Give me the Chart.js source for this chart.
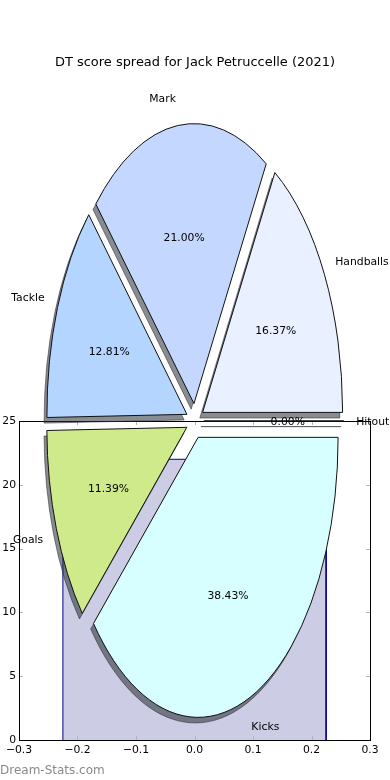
<!DOCTYPE html>
<html><head><meta charset="utf-8">
<script src="https://cdn.jsdelivr.net/npm/chart.js@4"></script>
<style>
html,body{margin:0;padding:0;background:#fff;}
#wrap{position:relative;width:390px;height:780px;overflow:hidden;}
canvas{position:absolute;left:0;top:0;}
#wm{position:absolute;left:0;top:763px;font:12px 'DejaVu Sans';line-height:14px;color:#8a8a8a;}
</style></head><body>
<div id="wrap">
<canvas id="axes" width="390" height="780"></canvas>
<canvas id="pie" width="390" height="780"></canvas>
<div id="wm">Dream-Stats.com</div>
</div>
<script>
const titleText = 'DT score spread for Jack Petruccelle (2021)';
const categories = ['Handballs', 'Mark', 'Tackle', 'Goals', 'Kicks', 'Hitout'];
const shares = [16.37, 21.00, 12.81, 11.39, 38.43, 0.00];
const sliceColors = ['#e9f0ff', '#c4d8ff', '#b3d5ff', '#cfea8a', '#d8ffff', '#ffd8d8'];
const areaX = [-0.225, -0.225, 0.225, 0.225];
const areaY = [0, 22, 22, 0];
const markerX = [-0.2, -0.2];
const markerY = [0, 22];
const xTicks = [-0.3, -0.2, -0.1, 0, 0.1, 0.2, 0.3];
const yTicks = [0, 5, 10, 15, 20, 25];

const FONT = "'DejaVu Sans', 'Liberation Sans', sans-serif";
const K = 2;            // vertical stretch of the pie (ellipse)
const EXPLODE = 8.75;   // explode distance (chart-space px)
const SHX = -2.8, SHY = 5.6;
const TEXT_DY = 1.5;
const shadowColor = 'rgba(40,45,52,0.55)';

const toPts = (xs, ys) => xs.map((v, i) => ({x: v, y: ys[i]}));

const framePlugin = {
  id: 'frame',
  afterDatasetsDraw(chart) {
    const {ctx, chartArea: a, scales: {x, y}} = chart;
    ctx.save();
    ctx.strokeStyle = '#b4b4b4';
    ctx.lineWidth = 1;
    ctx.beginPath();
    x.ticks.forEach(t => {
      const p = Math.round(x.getPixelForValue(t.value)) + 0.5;
      ctx.moveTo(p, a.bottom); ctx.lineTo(p, a.bottom - 4);
      ctx.moveTo(p, a.top); ctx.lineTo(p, a.top + 4);
    });
    y.ticks.forEach(t => {
      const p = Math.round(y.getPixelForValue(t.value)) + 0.5;
      ctx.moveTo(a.left, p); ctx.lineTo(a.left + 4, p);
      ctx.moveTo(a.right, p); ctx.lineTo(a.right - 4, p);
    });
    ctx.stroke();
    ctx.strokeStyle = '#000';
    ctx.strokeRect(Math.round(a.left) + 0.5, Math.round(a.top) + 0.5,
                   Math.round(a.right - a.left), Math.round(a.bottom - a.top));
    ctx.restore();
  }
};

const fmtX = v => (v < -1e-9 ? '\u2212' : '') + Math.abs(v).toFixed(1);

new Chart(document.getElementById('axes'), {
  type: 'line',
  data: {
    datasets: [
      {
        data: toPts(areaX, areaY),
        borderColor: '#00008b', borderWidth: 1,
        backgroundColor: '#ccccE4', fill: 'origin',
        pointRadius: 0, tension: 0
      },
      {
        data: toPts(markerX, markerY),
        borderColor: 'rgba(140,140,170,0.8)', borderWidth: 1, borderDash: [2, 2],
        fill: false, pointRadius: 0
      }
    ]
  },
  options: {
    responsive: false, animation: false,
    layout: {padding: {left: 0, right: 20, top: 421, bottom: 20}},
    plugins: {legend: {display: false}, tooltip: {enabled: false}},
    scales: {
      x: {
        type: 'linear', min: -0.3, max: 0.3,
        afterBuildTicks: s => { s.ticks = xTicks.map(v => ({value: v})); },
        afterFit: s => { s.height = 20; },
        grid: {display: false, drawTicks: false}, border: {display: false},
        ticks: {callback: v => fmtX(v), color: '#000', padding: 3.5, maxRotation: 0,
                autoSkip: false, font: {family: FONT, size: 10.8}}
      },
      y: {
        type: 'linear', min: 0, max: 25,
        afterBuildTicks: s => { s.ticks = yTicks.map(v => ({value: v})); },
        afterFit: s => { s.width = 19; },
        grid: {display: false, drawTicks: false}, border: {display: false},
        ticks: {color: '#000', padding: 3, autoSkip: false, font: {family: FONT, size: 10.8}}
      }
    }
  },
  plugins: [framePlugin]
});

function toEllipse(ctx, cx, cy) {
  ctx.translate(cx, cy);
  ctx.scale(1, -K);
  ctx.translate(-cx, -cy);
}

function arcGeom(el) {
  return el.getProps(['x', 'y', 'startAngle', 'endAngle', 'outerRadius'], true);
}

function slicePath(ctx, g, dx, dy) {
  const mid = (g.startAngle + g.endAngle) / 2;
  ctx.save();
  ctx.translate(dx, dy);
  toEllipse(ctx, g.x, g.y);
  ctx.translate(Math.cos(mid) * EXPLODE, Math.sin(mid) * EXPLODE);
  ctx.beginPath();
  ctx.moveTo(g.x, g.y);
  ctx.arc(g.x, g.y, g.outerRadius, g.startAngle, g.endAngle);
  ctx.closePath();
  ctx.restore();
}

const piePlugin = {
  id: 'ellipsePie',
  beforeDatasetDraw(chart, args) {
    const ctx = chart.ctx;
    const arcs = args.meta.data;
    ctx.save();
    arcs.forEach(el => {
      const g = arcGeom(el);
      slicePath(ctx, g, SHX, SHY);
      ctx.fillStyle = shadowColor;
      ctx.fill();
      ctx.strokeStyle = shadowColor;
      ctx.lineWidth = 1;
      ctx.stroke();
    });
    arcs.forEach(el => {
      const g = arcGeom(el);
      const mid = (g.startAngle + g.endAngle) / 2;
      ctx.save();
      toEllipse(ctx, g.x, g.y);
      ctx.translate(Math.cos(mid) * EXPLODE, Math.sin(mid) * EXPLODE);
      el.draw(ctx, chart.chartArea);
      ctx.restore();
    });
    arcs.forEach(el => {
      const g = arcGeom(el);
      slicePath(ctx, g, 0, 0);
      ctx.strokeStyle = '#111';
      ctx.lineWidth = 1;
      ctx.lineJoin = 'miter';
      ctx.stroke();
    });
    ctx.restore();
    return false;
  },
  afterDatasetsDraw(chart) {
    const ctx = chart.ctx;
    const meta = chart.getDatasetMeta(0);
    const total = shares.reduce((a, b) => a + b, 0);
    ctx.save();
    ctx.fillStyle = '#000';
    ctx.font = '10.8px ' + FONT;
    ctx.textBaseline = 'middle';
    meta.data.forEach((el, i) => {
      const g = arcGeom(el);
      const mid = (g.startAngle + g.endAngle) / 2;
      const c = Math.cos(mid), s = Math.sin(mid);
      const rl = 1.1 * g.outerRadius + EXPLODE;
      const rp = 0.6 * g.outerRadius + EXPLODE;
      ctx.textAlign = c > 0 ? 'left' : 'right';
      ctx.fillText(categories[i], g.x + rl * c - (c > 0 ? 1.5 : 0), g.y - K * rl * s + TEXT_DY);
      ctx.textAlign = 'center';
      ctx.fillText((shares[i] / total * 100).toFixed(2) + '%', g.x + rp * c, g.y - K * rp * s + TEXT_DY);
    });
    ctx.restore();
  }
};

new Chart(document.getElementById('pie'), {
  type: 'pie',
  data: {
    labels: categories,
    datasets: [{data: shares, backgroundColor: sliceColors, borderWidth: 0}]
  },
  options: {
    responsive: false, animation: false, rotation: 90,
    layout: {padding: {left: 55, right: 55, top: 0, bottom: 219}},
    plugins: {
      legend: {display: false}, tooltip: {enabled: false},
      title: {
        display: true, text: titleText, color: '#000',
        font: {family: FONT, size: 13, weight: 'normal', lineHeight: 1.2},
        padding: {top: 54.5, bottom: 210.9}
      }
    }
  },
  plugins: [piePlugin]
});
</script>
</body></html>
